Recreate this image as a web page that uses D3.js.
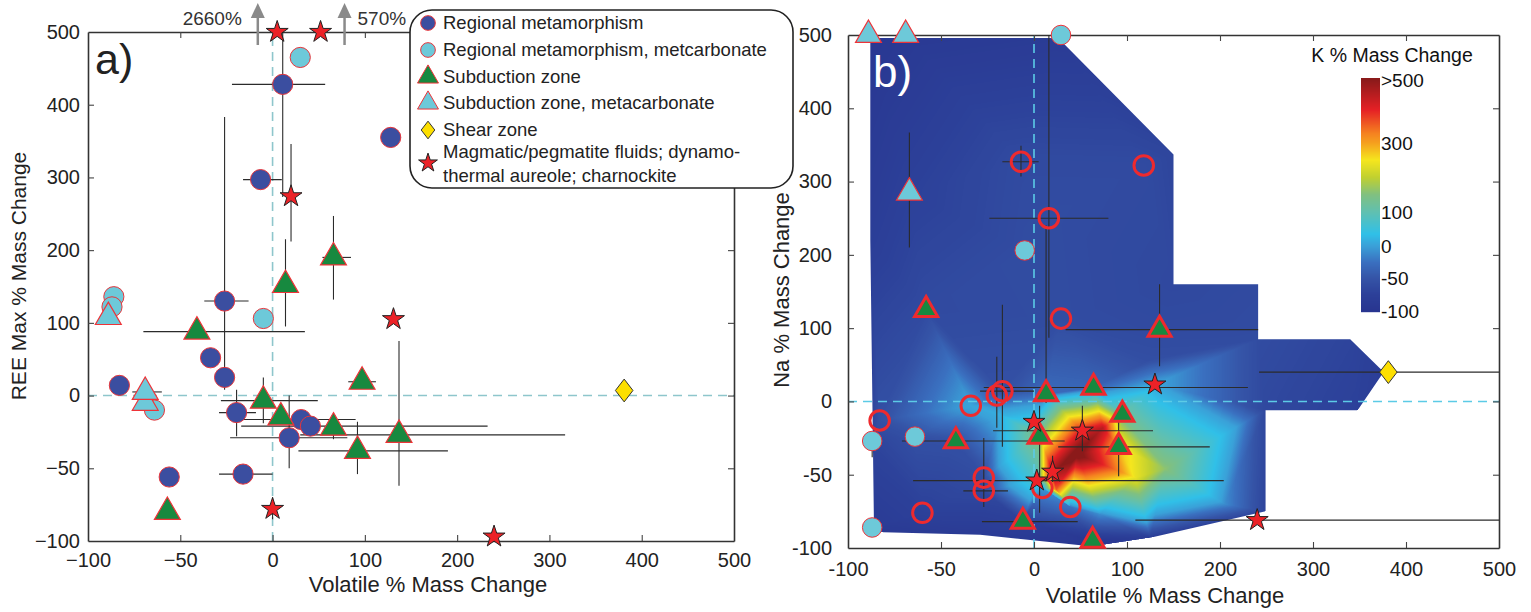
<!DOCTYPE html>
<html>
<head>
<meta charset="utf-8">
<script src="https://cdn.jsdelivr.net/npm/d3@7"></script>
<style>
  body { margin: 0; background: #fff; }
  svg { display: block; font-family: Helvetica, Arial, "Liberation Sans", sans-serif; }
</style>
</head>
<body>
<svg id="chart" width="1531" height="612"></svg>
<script>
// axis ticks (both panels use an uneven, piecewise scale)
var ticks = [-100, -50, 0, 100, 200, 300, 400, 500];

// ---- panel a: Volatile vs REE max (% mass change) ----
var regA = [
  {x: 11, y: 428, ex: [-22, 57], ey: [273, 500]},
  {x: -6.5, y: 297, ex: [-16, 10]},
  {x: 128, y: 355},
  {x: -26, y: 130, ex: [-37, -13], ey: [8, 383]},
  {x: -33.6, y: 52},
  {x: -26, y: 25},
  {x: -83, y: 14},
  {x: -19.5, y: -11.7, ex: [-29, -9], ey: [-28, 8]},
  {x: 31, y: -16.5, ex: [-22, 90]},
  {x: 41, y: -21, ex: [-17, 233]},
  {x: 18, y: -29, ex: [-23, 81], ey: [-50, 0]},
  {x: -56, y: -56},
  {x: -16, y: -54, ex: [-29, 0]}
];
var carbA = [
  {x: 30, y: 465}, {x: -86, y: 136}, {x: -87, y: 122}, {x: -5, y: 106}, {x: -64, y: -10}
];
var subA = [
  {x: 14, y: 152, ey: [95, 215]},
  {x: 66, y: 190, ex: [54, 85], ey: [132, 247]},
  {x: -41, y: 88, ex: [-70, 35]},
  {x: -5, y: -3.5, ex: [-28, 49], ey: [-19, 25]},
  {x: 9, y: -15},
  {x: 66, y: -22, ey: [-30, -14]},
  {x: 97, y: 19, ex: [82, 112]},
  {x: 92, y: -38, ex: [28, 190], ey: [-54, -18]},
  {x: 137, y: -27, ex: [30, 317], ey: [-62, 75]},
  {x: -57, y: -80}
];
var subCarbA = [
  {x: -89, y: 108}, {x: -69, y: -5}, {x: -69, y: 5, ex: [-76, -60]}
];
var shearA = [{x: 381, y: 7}];
var magA = [
  {x: 5, y: 500}, {x: 52, y: 500},
  {x: 20, y: 274, ey: [212, 346]},
  {x: 131, y: 105},
  {x: 0, y: -78, ey: [-85, -70]},
  {x: 240, y: -97}
];

// ---- panel b: Volatile vs Na, k = K % mass change ----
var regB = [
  {x: -7, y: 327, k: -62, ex: [-17, 5], ey: [307, 349]},
  {x: 16, y: 250, k: -60, ex: [-24, 80], ey: [87, 500]},
  {x: 118, y: 322, k: -62},
  {x: 29, y: 113, k: -60},
  {x: -17, y: 14, k: -55, ex: [-29, 0], ey: [-31, 132]},
  {x: -20, y: 8, k: -45, ey: [-18, 61]},
  {x: -34, y: -3, k: 5},
  {x: -83, y: -13, k: -55},
  {x: -27, y: -52, k: -60, ey: [-72, -25]},
  {x: -27, y: -61, k: -65, ex: [-38, -14]},
  {x: -60, y: -76, k: -75},
  {x: 9, y: -59, k: -5},
  {x: 39, y: -72, k: -25}
];
var carbB = [
  {x: 29, y: 500, k: -85},
  {x: -5, y: 206, k: -60},
  {x: -87, y: -27, k: -70, ey: [-38, -27]},
  {x: -64, y: -24, k: -55},
  {x: -87, y: -86, k: -85}
];
var subB = [
  {x: -58, y: 125, k: -62},
  {x: 13, y: 10, k: -30, ey: [-1, 240]},
  {x: 64, y: 19, k: -35, ex: [-27, 230]},
  {x: 95, y: -9, k: 130},
  {x: 6, y: -24, k: 160, ey: [-76, -3]},
  {x: -42, y: -27, k: -55, ex: [-71, 33]},
  {x: 91, y: -31, k: 280, ex: [26, 189], ey: [-51, -5]},
  {x: -6, y: -82, k: -75, ex: [-28, 47]},
  {x: 63, y: -95, k: -95},
  {x: 135, y: 98, k: -62, ex: [34, 241], ey: [48, 160]}
];
var subCarbB = [
  {x: -89, y: 500, k: -95},
  {x: -69, y: 500, k: -90},
  {x: -67, y: 285, k: -75, ey: [210, 367]}
];
var shearB = [{x: 381, y: 40, k: -80, ex: [242, 500]}];
var magB = [
  {x: 0, y: -14, k: 50},
  {x: 52, y: -20, k: 420, ex: [-22, 128], ey: [-34, -3]},
  {x: 20, y: -48, k: 480, ey: [-55, -37]},
  {x: 3, y: -54, k: 70, ex: [-65, 204]},
  {x: 130, y: 23, k: 5},
  {x: 240, y: -81, k: -90, ex: [109, 500]}
];
// extra K readings of the surface between markers [volatile, Na, K]
var heatExtra = [
  [46, -36, 540], [74, -18, 450], [24, -60, 360], [109, -52, 240], [141, -46, 160],
  [205, -70, -10], [71, -77, -10], [-18, -9, 15], [125, 57, -58]
];
// outline of the gridded surface [volatile, Na, K]
var heatEdge = [
  [-88, 496, -95], [26, 496, -85], [150, 337, -68], [150, 160, -65], [241, 160, -62],
  [241, 85, -60], [340, 85, -70], [376, 40, -80], [348, -6, -75], [249, -6, -65],
  [249, -75, -70], [125, -93, -80], [63, -99, -95], [-29, -91, -85], [-86, -89, -90], [-88, 220, -80]
];

// colour bar
var cbTicks = [-100, -50, 0, 100, 300, 500];
var cbLabels = ["-100", "-50", "0", "100", "300", ">500"];
var kDomain = [-100, -75, -50, -25, 0, 35, 100, 150, 200, 250, 300, 330, 405, 500];
var kColors = ["#283590", "#2c4099", "#3554a7", "#3a70c0", "#3aa0d8", "#30c0e8", "#60c0b0",
               "#80c080", "#c0d030", "#f5e61e", "#f5a01e", "#f58220", "#e52025", "#8b1a1a"];

var legendItems = [
  {label: ["Regional metamorphism"], sym: "circle", fill: "#3b4ea0", stroke: "#e8353a"},
  {label: ["Regional metamorphism, metcarbonate"], sym: "circle", fill: "#6dc9d9", stroke: "#e8353a"},
  {label: ["Subduction zone"], sym: "triangle", fill: "#17893f", stroke: "#ee3338"},
  {label: ["Subduction zone, metacarbonate"], sym: "triangle", fill: "#6dc9d9", stroke: "#ee3338"},
  {label: ["Shear zone"], sym: "diamond", fill: "#fddf00", stroke: "#333"},
  {label: ["Magmatic/pegmatite fluids; dynamo-", "thermal aureole; charnockite"], sym: "star", fill: "#ec2227", stroke: "#222"}
];

var svg = d3.select("#chart");
var aBox = {l: 88, r: 734, t: 32, b: 541};
var bBox = {l: 848, r: 1499, t: 35, b: 548};

function even(lo, hi) {
  return ticks.map(function(d, i) { return lo + i * (hi - lo) / (ticks.length - 1); });
}
var xa = d3.scaleLinear().domain(ticks).range(even(aBox.l, aBox.r));
var ya = d3.scaleLinear().domain(ticks).range(even(aBox.b, aBox.t));
var xb = d3.scaleLinear().domain(ticks).range(even(bBox.l, bBox.r));
var yb = d3.scaleLinear().domain(ticks).range(even(bBox.b, bBox.t));
var kColor = d3.scaleLinear().domain(kDomain).range(kColors).clamp(true);

function symPath(type, size) {
  if (type == "diamond") {
    var w = Math.sqrt(size) * 0.62, h = w * 1.3;
    return "M0," + (-h) + "L" + w + ",0L0," + h + "L" + (-w) + ",0Z";
  }
  var t = {circle: d3.symbolCircle, triangle: d3.symbolTriangle, star: d3.symbolStar}[type];
  return d3.symbol().type(t).size(size)();
}

function drawAxes(x, y, box, fmt, padX, padY) {
  var g = svg.append("g").attr("class", "axes");
  var f = function(d) { return fmt(d); };
  g.append("g").attr("transform", "translate(0," + box.b + ")")
    .call(d3.axisBottom(x).tickValues(ticks).tickSizeInner(-6).tickSizeOuter(0).tickPadding(padX).tickFormat(f));
  g.append("g").attr("transform", "translate(0," + box.t + ")")
    .call(d3.axisTop(x).tickValues(ticks).tickSizeInner(-6).tickSizeOuter(0).tickFormat(""));
  g.append("g").attr("transform", "translate(" + box.l + ",0)")
    .call(d3.axisLeft(y).tickValues(ticks).tickSizeInner(-6).tickSizeOuter(0).tickPadding(padY).tickFormat(f));
  g.append("g").attr("transform", "translate(" + box.r + ",0)")
    .call(d3.axisRight(y).tickValues(ticks).tickSizeInner(-6).tickSizeOuter(0).tickFormat(""));
  g.selectAll(".domain").attr("stroke", "#333").attr("stroke-width", 1.6);
  g.selectAll(".tick line").attr("stroke", "#444").attr("stroke-width", 1.1);
  g.selectAll("text").attr("font-size", 20).attr("fill", "#222")
    .attr("font-family", "Helvetica, Arial, 'Liberation Sans', sans-serif");
  g.selectAll(".tick").filter(function(d) { return d == -100 || d == 500; }).select("line").remove();
  return g;
}

function zeroLines(x, y, box, color) {
  var g = svg.append("g").attr("stroke", color).attr("stroke-width", 1.6).attr("stroke-dasharray", "9,6");
  g.append("line").attr("x1", x(0)).attr("x2", x(0)).attr("y1", box.b).attr("y2", box.t);
  g.append("line").attr("x1", box.l).attr("x2", box.r).attr("y1", y(0)).attr("y2", y(0));
}

function errorBars(data, x, y) {
  var g = svg.append("g").attr("stroke", "#2b2b2b").attr("stroke-width", 1.1);
  data.forEach(function(d) {
    if (d.ex) g.append("line").attr("x1", x(d.ex[0])).attr("x2", x(Math.min(d.ex[1], 500)))
      .attr("y1", y(d.y)).attr("y2", y(d.y));
    if (d.ey) g.append("line").attr("x1", x(d.x)).attr("x2", x(d.x))
      .attr("y1", y(d.ey[0])).attr("y2", y(Math.min(d.ey[1], 500)));
  });
}

function markers(data, x, y, type, size, fill, stroke, sw) {
  svg.append("g").selectAll("path").data(data).enter().append("path")
    .attr("transform", function(d) { return "translate(" + x(d.x) + "," + y(d.y) + ")"; })
    .attr("d", symPath(type, size))
    .attr("fill", fill).attr("stroke", stroke).attr("stroke-width", sw);
}

// ================= panel a =================
zeroLines(xa, ya, aBox, "#8ec6cc");
drawAxes(xa, ya, aBox, function(d) { return d < 0 ? "\u2212" + (-d) : d; }, 12, 8);

var allA = regA.concat(carbA, subA, subCarbA, shearA, magA);
errorBars(allA, xa, ya);
markers(regA, xa, ya, "circle", 320, "#3b4ea0", "#e8353a", 1);
markers(carbA, xa, ya, "circle", 320, "#6dc9d9", "#e8353a", 1);
markers(subCarbA, xa, ya, "triangle", 290, "#6dc9d9", "#ee3338", 1.2);
markers(subA, xa, ya, "triangle", 290, "#17893f", "#ee3338", 1.2);
markers(shearA, xa, ya, "diamond", 200, "#fddf00", "#333", 1);
markers(magA, xa, ya, "star", 150, "#ec2227", "#222", 1);

// off-scale arrows
var arrows = [{x: -8, label: "2660%", side: "left"}, {x: 78, label: "570%", side: "right"}];
arrows.forEach(function(a) {
  var px = xa(a.x);
  svg.append("line").attr("x1", px).attr("x2", px).attr("y1", 45).attr("y2", 14)
    .attr("stroke", "#8a8a8a").attr("stroke-width", 2.5);
  svg.append("path").attr("d", "M" + (px - 7) + ",18L" + px + ",3L" + (px + 7) + ",18Z").attr("fill", "#8a8a8a");
  svg.append("text").attr("x", a.side == "left" ? px - 16 : px + 13).attr("y", 25)
    .attr("text-anchor", a.side == "left" ? "end" : "start")
    .attr("font-size", 19).attr("fill", "#333").text(a.label);
});

svg.append("text").attr("x", 95).attr("y", 74).attr("font-size", 43).attr("fill", "#222").text("a)");
svg.append("text").attr("x", 428).attr("y", 592).attr("text-anchor", "middle")
  .attr("font-size", 22).attr("fill", "#222").text("Volatile % Mass Change");
svg.append("text").attr("transform", "translate(26,276)rotate(-90)").attr("text-anchor", "middle")
  .attr("font-size", 21).attr("fill", "#222").text("REE Max % Mass Change");

// legend
var lg = svg.append("g");
lg.append("rect").attr("x", 410).attr("y", 10).attr("width", 383).attr("height", 178).attr("rx", 22)
  .attr("fill", "#fff").attr("stroke", "#222").attr("stroke-width", 1.6);
var rowY = [23, 50, 77, 103, 130, 163];
legendItems.forEach(function(it, i) {
  var size = it.sym == "star" ? 110 : it.sym == "diamond" ? 120 : it.sym == "triangle" ? 190 : 170;
  lg.append("path").attr("transform", "translate(428," + rowY[i] + ")").attr("d", symPath(it.sym, size))
    .attr("fill", it.fill).attr("stroke", it.stroke).attr("stroke-width", 1);
  it.label.forEach(function(t, j) {
    var yy = it.label.length > 1 ? rowY[i] - 11 + j * 24 : rowY[i];
    lg.append("text").attr("x", 443).attr("y", yy).attr("dy", "0.35em")
      .attr("font-size", 18.5).attr("fill", "#222").text(t);
  });
});

// ================= panel b =================
var allB = regB.concat(carbB, subB, subCarbB, shearB, magB);

// K surface: linear interpolation over a Delaunay triangulation of the readings
var bw = bBox.r - bBox.l, bh = bBox.b - bBox.t;
var heatPts = allB.map(function(d) { return [d.x, d.y, d.k]; }).concat(heatExtra, heatEdge);
var pxy = heatPts.map(function(d) { return [xb(d[0]) - bBox.l, yb(d[1]) - bBox.t]; });
var del = d3.Delaunay.from(pxy);
var canvas = document.createElement("canvas");
canvas.width = bw; canvas.height = bh;
var ctx = canvas.getContext("2d");
var im = ctx.createImageData(bw, bh);
var lut = d3.range(0, 661).map(function(i) { return d3.rgb(kColor(i - 100)); });
var tri = del.triangles;
for (var t = 0; t < tri.length; t += 3) {
  var p0 = pxy[tri[t]], p1 = pxy[tri[t + 1]], p2 = pxy[tri[t + 2]];
  var k0 = heatPts[tri[t]][2], k1 = heatPts[tri[t + 1]][2], k2 = heatPts[tri[t + 2]][2];
  var det = (p1[1] - p2[1]) * (p0[0] - p2[0]) + (p2[0] - p1[0]) * (p0[1] - p2[1]);
  if (Math.abs(det) < 1e-9) continue;
  var x0 = Math.max(0, Math.floor(Math.min(p0[0], p1[0], p2[0]))),
      x1 = Math.min(bw - 1, Math.ceil(Math.max(p0[0], p1[0], p2[0]))),
      y0 = Math.max(0, Math.floor(Math.min(p0[1], p1[1], p2[1]))),
      y1 = Math.min(bh - 1, Math.ceil(Math.max(p0[1], p1[1], p2[1])));
  for (var j = y0; j <= y1; j++) {
    for (var i = x0; i <= x1; i++) {
      var px = i + 0.5, py = j + 0.5;
      var l0 = ((p1[1] - p2[1]) * (px - p2[0]) + (p2[0] - p1[0]) * (py - p2[1])) / det;
      var l1 = ((p2[1] - p0[1]) * (px - p2[0]) + (p0[0] - p2[0]) * (py - p2[1])) / det;
      var l2 = 1 - l0 - l1;
      if (l0 < -1e-6 || l1 < -1e-6 || l2 < -1e-6) continue;
      var k = l0 * k0 + l1 * k1 + l2 * k2;
      var c = lut[Math.max(0, Math.min(660, Math.round(k + 100)))];
      var o = (j * bw + i) * 4;
      im.data[o] = c.r; im.data[o + 1] = c.g; im.data[o + 2] = c.b; im.data[o + 3] = 255;
    }
  }
}
ctx.putImageData(im, 0, 0);

svg.append("clipPath").attr("id", "heatClip").append("path")
  .attr("d", d3.line()(heatEdge.map(function(d) { return [xb(d[0]), yb(d[1])]; })) + "Z");
svg.append("image").attr("x", bBox.l).attr("y", bBox.t).attr("width", bw).attr("height", bh)
  .attr("href", canvas.toDataURL()).attr("clip-path", "url(#heatClip)");

zeroLines(xb, yb, bBox, "#5ccbe6");
drawAxes(xb, yb, bBox, function(d) { return d; }, 14, 16);

errorBars(allB, xb, yb);
markers(regB, xb, yb, "circle", 300, "none", "#ee2a2e", 3);
markers(carbB, xb, yb, "circle", 300, "#6dc9d9", "#ee3338", 1);
markers(subCarbB, xb, yb, "triangle", 290, "#6dc9d9", "#ee3338", 1.2);
markers(subB, xb, yb, "triangle", 230, "#17893f", "#ee2a2e", 3);
markers(shearB, xb, yb, "diamond", 200, "#fddf00", "#333", 1);
markers(magB, xb, yb, "star", 150, "#ec2227", "#222", 1);

svg.append("text").attr("x", 873).attr("y", 87).attr("font-size", 44).attr("fill", "#fff").text("b)");
svg.append("text").attr("x", 1165).attr("y", 603).attr("text-anchor", "middle")
  .attr("font-size", 22).attr("fill", "#222").text("Volatile % Mass Change");
svg.append("text").attr("transform", "translate(789,290)rotate(-90)").attr("text-anchor", "middle")
  .attr("font-size", 22).attr("fill", "#222").text("Na % Mass Change");

// colour bar
var cbY = d3.scaleLinear().domain(cbTicks).range([311, 278, 246, 212, 143, 80]);
var cb = svg.append("g");
d3.range(78, 312).forEach(function(py) {
  cb.append("rect").attr("x", 1361).attr("y", py).attr("width", 19).attr("height", 1.2)
    .attr("fill", kColor(cbY.invert(py + 0.5)));
});
cb.selectAll("text.cbl").data(cbTicks).enter().append("text")
  .attr("x", 1381).attr("y", function(d) { return cbY(d); }).attr("dy", "0.35em")
  .attr("font-size", 19).attr("fill", "#111")
  .text(function(d, i) { return cbLabels[i]; });
cb.append("text").attr("x", 1392).attr("y", 55).attr("dy", "0.35em").attr("text-anchor", "middle")
  .attr("font-size", 19.5).attr("fill", "#111").text("K % Mass Change");
</script>
</body>
</html>
